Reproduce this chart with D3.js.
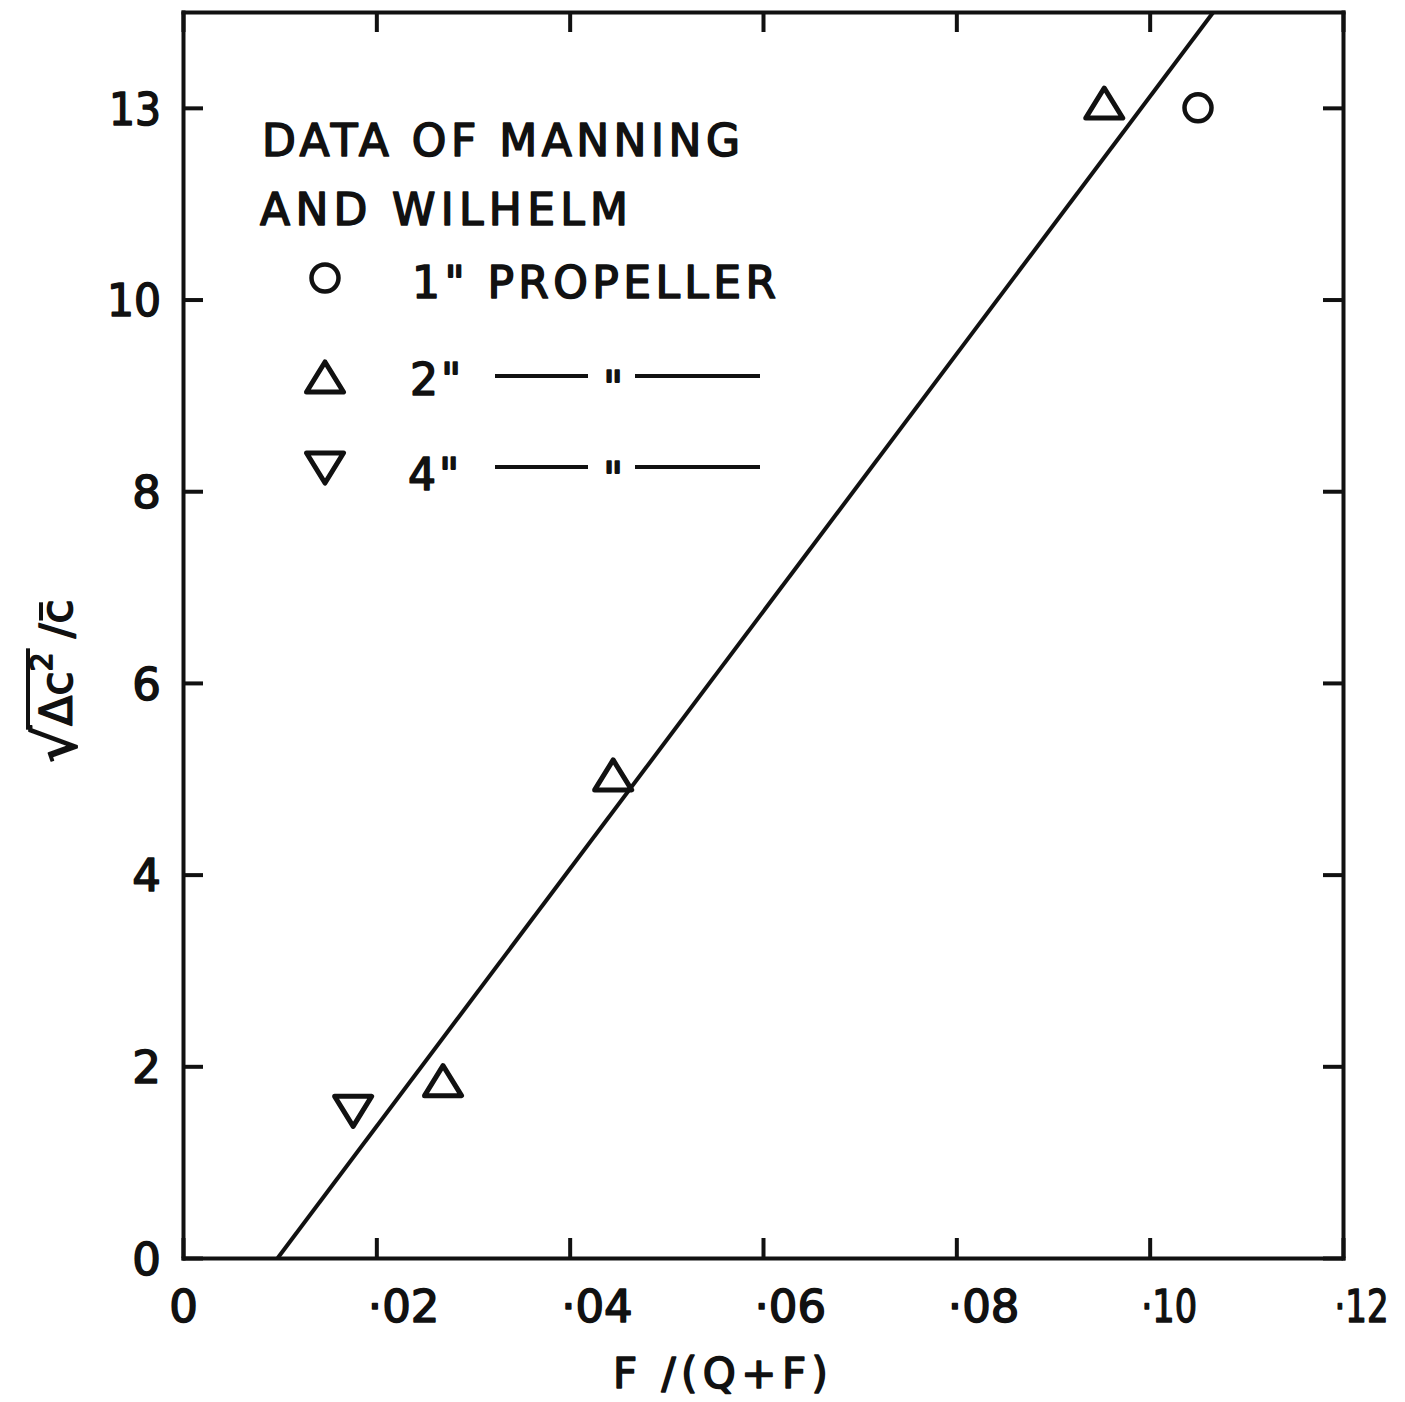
<!DOCTYPE html>
<html>
<head>
<meta charset="utf-8">
<script src="https://cdn.jsdelivr.net/npm/d3@7"></script>
<style>
  html, body { margin: 0; padding: 0; background: #ffffff; }
  svg { display: block; }
  text { font-family: "DejaVu Sans", sans-serif; font-weight: normal; fill: #111; stroke: #111; stroke-width: 1.6; stroke-linejoin: round; }
</style>
</head>
<body>
<script>
// Axis ticks and their printed labels
const xTicks = [0, 0.02, 0.04, 0.06, 0.08, 0.10, 0.12];
const xTickLabels = ["0", "·02", "·04", "·06", "·08", "·10", "·12"];
const yTicks = [0, 2, 4, 6, 8, 10, 12];
const yTickLabels = ["0", "2", "4", "6", "8", "10", "13"];

// Measured points, one array pair per propeller size
const prop1X = [0.105];
const prop1Y = [12.0];
const prop2X = [0.0953, 0.0445, 0.0269];
const prop2Y = [12.05, 5.04, 1.85];
const prop4X = [0.0176];
const prop4Y = [1.53];

// Fitted straight line (end points)
const fitX = [0.0098, 0.1066];
const fitY = [0, 13];

// Legend text
const legendTitle = ["DATA OF MANNING", "AND WILHELM"];
const legendLabels = ["1\" PROPELLER", "2\"", "4\""];

const W = 1405, H = 1402;
const frame = { left: 183, right: 1343, top: 12, bottom: 1258 };

const svg = d3.select("body").append("svg")
  .attr("width", W).attr("height", H);

const x = d3.scaleLinear().domain([0, 0.12]).range([frame.left, frame.right]);
const y = d3.scaleLinear().domain([0, 13]).range([frame.bottom, frame.top]);

const ink = "#111";
const lw = 4;

// Frame with inward ticks on all four sides
const axB = svg.append("g").attr("transform", `translate(0,${frame.bottom})`)
  .call(d3.axisBottom(x).tickValues(xTicks)
    .tickFormat((d, i) => xTickLabels[i])
    .tickSizeInner(-20).tickSizeOuter(0).tickPadding(32));
const axT = svg.append("g").attr("transform", `translate(0,${frame.top})`)
  .call(d3.axisTop(x).tickValues(xTicks).tickFormat("")
    .tickSizeInner(-20).tickSizeOuter(0));
const axL = svg.append("g").attr("transform", `translate(${frame.left},0)`)
  .call(d3.axisLeft(y).tickValues(yTicks)
    .tickFormat((d, i) => yTickLabels[i])
    .tickSizeInner(-20).tickSizeOuter(0).tickPadding(22));
const axR = svg.append("g").attr("transform", `translate(${frame.right},0)`)
  .call(d3.axisRight(y).tickValues(yTicks).tickFormat("")
    .tickSizeInner(-20).tickSizeOuter(0));

[axB, axT, axL, axR].forEach(g => {
  g.attr("fill", null).attr("font-family", null).attr("font-size", null);
  g.select(".domain").attr("stroke", ink).attr("stroke-width", lw)
    .attr("stroke-linecap", "square");
  g.selectAll(".tick line").attr("stroke", ink).attr("stroke-width", lw);
});

// the "1" in these labels is a bare stroke, so they run narrower
const narrowLen = { "·10": 56, "·12": 54, "10": 54, "13": 52 };

axB.selectAll(".tick text")
  .attr("font-size", 45)
  .attr("fill", ink)
  .attr("text-anchor", (d) => d === 0 ? "middle" : "start")
  .attr("x", (d) => d === 0 ? 0 : -9)
  .each(function (d, i) {
    const s = xTickLabels[i];
    if (narrowLen[s]) d3.select(this).attr("textLength", narrowLen[s])
      .attr("lengthAdjust", "spacingAndGlyphs");
  });
axL.selectAll(".tick text")
  .attr("font-size", 45)
  .attr("fill", ink)
  .attr("dy", "0.36em")
  .each(function (d, i) {
    const s = yTickLabels[i];
    if (narrowLen[s]) d3.select(this).attr("textLength", narrowLen[s])
      .attr("lengthAdjust", "spacingAndGlyphs");
  });

// Axis titles
svg.append("text")
  .attr("x", 613).attr("y", 1388)
  .attr("font-size", 42)
  .attr("textLength", 215).attr("lengthAdjust", "spacing")
  .text("F /(Q+F)");

// Y title: square root of mean squared fluctuation over mean
const yt = svg.append("g").attr("transform", "translate(72,681) rotate(-90)");
const ytText = yt.append("text")
  .attr("font-size", 44)
  .attr("text-anchor", "middle");
ytText.append("tspan").attr("font-size", 58).attr("dy", 4).text("√");
ytText.append("tspan").attr("dy", -4).text("Δc");
ytText.append("tspan").attr("font-size", 30).attr("dy", -20).text("2");
ytText.append("tspan").attr("dy", 20).text(" /");
ytText.append("tspan").text("c");
{
  const node = ytText.node();
  const rad = node.getExtentOfChar(0);
  const sup = node.getExtentOfChar(3);
  const cbar = node.getExtentOfChar(6);
  // vinculum over the radicand
  yt.append("line")
    .attr("x1", rad.x + rad.width - 4).attr("x2", sup.x + sup.width + 4)
    .attr("y1", rad.y + 6).attr("y2", rad.y + 6)
    .attr("stroke", ink).attr("stroke-width", lw);
  // bar over the mean c
  yt.append("line")
    .attr("x1", cbar.x + 3).attr("x2", cbar.x + cbar.width - 3)
    .attr("y1", cbar.y + 10).attr("y2", cbar.y + 10)
    .attr("stroke", ink).attr("stroke-width", lw);
}

// Fitted line, clipped to the frame
svg.append("clipPath").attr("id", "plot-clip")
  .append("rect").attr("x", frame.left).attr("y", frame.top)
  .attr("width", frame.right - frame.left).attr("height", frame.bottom - frame.top);

const fit = fitX.map((v, i) => [v, fitY[i]]);
svg.append("path")
  .datum(fit)
  .attr("clip-path", "url(#plot-clip)")
  .attr("fill", "none")
  .attr("stroke", ink)
  .attr("stroke-width", lw)
  .attr("d", d3.line().x(d => x(d[0])).y(d => y(d[1])));

// Marker shapes
const triUp = (w, h) => `M0,${-h / 2}L${w / 2},${h / 2}L${-w / 2},${h / 2}Z`;
const triDown = (w, h) => `M0,${h / 2}L${w / 2},${-h / 2}L${-w / 2},${-h / 2}Z`;

function drawCircles(xs, ys) {
  svg.append("g").selectAll("circle")
    .data(xs.map((v, i) => [v, ys[i]]))
    .join("circle")
    .attr("cx", d => x(d[0])).attr("cy", d => y(d[1]))
    .attr("r", 13.5)
    .attr("fill", "none").attr("stroke", ink).attr("stroke-width", 4.5);
}
function drawTris(xs, ys, shape) {
  svg.append("g").selectAll("path")
    .data(xs.map((v, i) => [v, ys[i]]))
    .join("path")
    .attr("transform", d => `translate(${x(d[0])},${y(d[1])})`)
    .attr("d", shape(37, 30))
    .attr("fill", "none").attr("stroke", ink).attr("stroke-width", 5)
    .attr("stroke-linejoin", "round");
}
drawCircles(prop1X, prop1Y);
drawTris(prop2X, prop2Y, triUp);
drawTris(prop4X, prop4Y, triDown);

// Legend
const lg = svg.append("g");
lg.append("text").attr("x", 262).attr("y", 156)
  .attr("font-size", 44).attr("textLength", 478).attr("lengthAdjust", "spacing")
  .text(legendTitle[0]);
lg.append("text").attr("x", 260).attr("y", 225)
  .attr("font-size", 44).attr("textLength", 368).attr("lengthAdjust", "spacing")
  .text(legendTitle[1]);

lg.append("circle").attr("cx", 325).attr("cy", 278).attr("r", 13.5)
  .attr("fill", "none").attr("stroke", ink).attr("stroke-width", 4.5);
lg.append("text").attr("x", 412).attr("y", 298)
  .attr("font-size", 44).attr("textLength", 364).attr("lengthAdjust", "spacing")
  .text(legendLabels[0]);

const rows = [
  { cy: 377, shape: triUp, label: legendLabels[1], tx: 410, base: 395 },
  { cy: 468, shape: triDown, label: legendLabels[2], tx: 408, base: 490 }
];
rows.forEach(r => {
  lg.append("path")
    .attr("transform", `translate(325,${r.cy})`)
    .attr("d", r.shape(37, 30))
    .attr("fill", "none").attr("stroke", ink).attr("stroke-width", 5)
    .attr("stroke-linejoin", "round");
  lg.append("text").attr("x", r.tx).attr("y", r.base)
    .attr("font-size", 44).attr("letter-spacing", 3)
    .text(r.label);
  // ditto line: ——— " ———
  const ly = r.cy - 1;
  lg.append("line").attr("x1", 495).attr("x2", 588).attr("y1", ly).attr("y2", ly)
    .attr("stroke", ink).attr("stroke-width", lw);
  lg.append("text").attr("x", 613).attr("y", ly + 27)
    .attr("text-anchor", "middle").attr("font-size", 44).text("\"");
  lg.append("line").attr("x1", 635).attr("x2", 760).attr("y1", ly).attr("y2", ly)
    .attr("stroke", ink).attr("stroke-width", lw);
});
</script>
</body>
</html>
